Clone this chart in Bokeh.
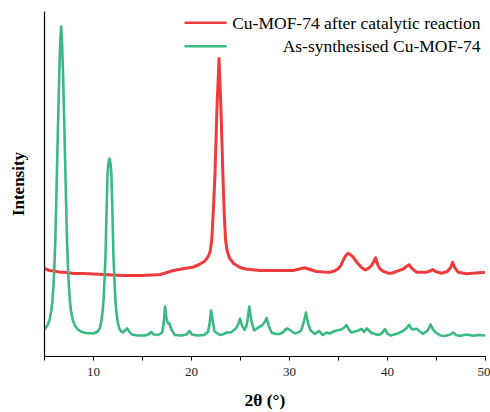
from bokeh.plotting import figure
from bokeh.models import Range1d, FixedTicker, Label
from bokeh.embed import file_html
from bokeh.resources import INLINE

# ---------------- data ----------------
two_theta_after = [5.0, 5.5, 6.0, 6.5, 7.28, 8.0, 9.0, 10.0, 11.0, 12.0, 13.0, 14.07, 15.0, 16.0,
                   16.8, 17.5, 18.15, 19.0, 20.2, 20.8, 21.3, 21.56, 21.75, 21.9, 22.06, 22.2,
                   22.4, 22.6, 22.81, 23.0, 23.2, 23.35, 23.48, 23.65, 23.9, 24.3, 24.95, 25.5,
                   27.0, 28.5, 30.36, 31.0, 31.55, 32.1, 32.74, 33.5, 34.1, 34.6, 34.95, 35.25,
                   35.46, 35.75, 35.97, 36.2, 36.5, 36.75, 37.0, 37.35, 37.7, 38.05, 38.37, 38.6,
                   38.78, 39.0, 39.22, 39.6, 40.07, 40.5, 41.08, 41.6, 42.0, 42.2, 42.5, 42.96,
                   43.98, 44.35, 44.6, 44.9, 45.52, 46.1, 46.45, 46.64, 46.85, 47.2, 48.06, 49.0,
                   49.94]
intensity_after = [88, 86, 85.5, 84.5, 84, 83, 83, 82.5, 82, 81.5, 81, 81, 81, 81.5,
                   82, 84, 86, 87.5, 89.5, 92, 95, 98, 101, 105, 116, 140,
                   183, 249, 298, 249, 183, 140, 116, 105, 98, 93, 89, 87.5,
                   86, 86, 86, 87.5, 88.7, 87, 85, 84.5, 84.3, 85.5, 87.7, 91,
                   96, 101, 103.3, 102, 99.3, 96, 92.7, 89, 86.7, 88, 91, 95,
                   98.7, 92, 87.7, 85, 83.3, 83.5, 85.7, 87.5, 90.5, 91.7, 88, 84.3,
                   84.3, 85.5, 87, 85, 83.3, 85, 89, 94.3, 89, 84.3, 82.7, 83.5,
                   84.3]

two_theta_synth = [5.0, 5.3, 5.5, 5.7, 5.8, 5.9, 6.0, 6.1, 6.2, 6.3, 6.4, 6.5, 6.6, 6.7,
                   6.8, 6.9, 7.0, 7.1, 7.2, 7.3, 7.4, 7.5, 7.6, 7.7, 7.9, 8.1, 8.4, 8.7,
                   9.2, 10.0, 10.13, 10.43, 10.63, 10.78, 10.93, 11.03, 11.13, 11.23, 11.33,
                   11.43, 11.53, 11.63, 11.73, 11.83, 11.93, 12.03, 12.13, 12.23, 12.33, 12.48,
                   12.63, 12.83, 13.0, 13.2, 13.43, 13.65, 13.9, 14.5, 15.2, 15.6, 15.88, 16.15,
                   16.6, 17.0, 17.15, 17.3, 17.45, 17.6, 17.75, 17.95, 18.3, 19.0, 19.5, 19.78,
                   20.05, 20.6, 21.3, 21.7, 21.85, 22.0, 22.15, 22.35, 22.9, 23.3, 23.6, 24.0,
                   24.4, 24.6, 24.8, 24.95, 25.15, 25.4, 25.65, 25.9, 26.1, 26.38, 26.82, 27.2,
                   27.5, 27.67, 27.9, 28.18, 28.6, 28.95, 29.3, 29.6, 29.8, 30.1, 30.55, 30.9,
                   31.17, 31.45, 31.68, 31.9, 32.15, 32.6, 33.0, 33.4, 33.8, 34.1, 34.5, 34.8,
                   35.3, 35.6, 35.8, 36.05, 36.33, 37.0, 37.35, 37.6, 37.9, 38.37, 39.05, 39.4,
                   39.73, 40.0, 40.3, 41.08, 41.67, 42.0, 42.2, 42.5, 42.96, 43.6, 44.1, 44.4,
                   44.65, 44.93, 45.4, 45.85, 46.4, 46.7, 47.0, 47.4, 48.07, 48.75, 49.3, 50.0]
intensity_synth = [27, 31, 36, 46, 55, 68, 88, 115, 155, 198, 240, 280, 312, 330,
                   312, 280, 240, 198, 155, 115, 88, 68, 55, 46, 36, 31, 27, 25,
                   23.5, 23, 23.5, 25, 28, 34, 45, 57, 78, 102, 145,
                   182, 194, 198, 194, 182, 145, 102, 78, 57, 45, 34,
                   28, 25, 24, 26, 28, 25, 22, 21, 21, 22, 24.5, 22,
                   21.5, 24, 32, 50, 38, 33, 33, 27, 21.5, 21, 22, 25.5,
                   22, 21, 21.5, 25, 33, 46, 36, 25, 21.5, 22.5, 24, 24,
                   27, 29, 33, 38, 31, 26.5, 32, 50, 36, 26, 29, 31,
                   35, 38.5, 30, 24, 22.5, 22.5, 24, 27, 28, 26, 23, 24,
                   26, 34, 44, 33, 26, 22.5, 25.5, 21.5, 24, 23, 25, 26,
                   27, 29, 31.5, 27, 24, 26, 27.7, 24.5, 28, 23.5, 21.5, 23,
                   27.5, 23, 21, 23, 26, 29, 31.7, 27, 27.7, 22.7, 26, 32,
                   27, 24, 21, 20.5, 22, 24, 21.5, 20.5, 22, 20.7, 21.5, 21]

series_labels = ["Cu-MOF-74 after catalytic reaction", "As-synthesised Cu-MOF-74"]
x_tick_values = [10, 20, 30, 40, 50]
x_minor_tick_values = [5, 15, 25, 35, 45]

# ---------------- layout / style ----------------
X0, X1 = 5, 50
Y0, Y1 = 0, 345
RED = "#EF3B3D"
GREEN = "#3BB983"
SERIF = "Liberation Serif"

# page-pixel -> data helpers (frame spans page px 44..485 and 11..356)
FL, FR, FT, FB = 44.0, 485.0, 11.0, 356.0
def px_x(px):
    return X0 + (px - FL) * (X1 - X0) / (FR - FL)
def px_y(py):
    return Y0 + (FB - py) * (Y1 - Y0) / (FB - FT)

p = figure(width=490, height=412, output_backend="svg", toolbar_location=None,
           x_range=Range1d(X0, X1), y_range=Range1d(Y0, Y1),
           min_border_left=44, min_border_right=5, min_border_top=11, min_border_bottom=56)
p.outline_line_color = None
p.xgrid.visible = False
p.ygrid.visible = False
p.background_fill_color = "white"
p.border_fill_color = "white"

p.line(two_theta_after, intensity_after, line_color=RED, line_width=3.0, line_join="round")
p.line(two_theta_synth, intensity_synth, line_color=GREEN, line_width=2.6, line_join="round")

# x axis
xa = p.xaxis[0]
xa.ticker = FixedTicker(ticks=x_tick_values, minor_ticks=x_minor_tick_values)
xa.axis_line_color = "black"
xa.axis_line_width = 1.2
xa.major_tick_in = 0
xa.major_tick_out = 4
xa.minor_tick_in = 0
xa.minor_tick_out = 4
xa.major_tick_line_color = "black"
xa.minor_tick_line_color = "black"
xa.major_label_text_font = SERIF
xa.major_label_text_font_size = "13px"
xa.major_label_text_color = "#222222"
xa.major_label_standoff = 7
xa.axis_label = "2θ (°)"
xa.axis_label_text_font = SERIF
xa.axis_label_text_font_style = "bold"
xa.axis_label_text_font_size = "17.5px"
xa.axis_label_text_color = "black"
xa.axis_label_standoff = 11

# y axis: line and title only
ya = p.yaxis[0]
ya.ticker = FixedTicker(ticks=[])
ya.axis_line_color = "black"
ya.axis_line_width = 1.2
ya.major_tick_in = 0
ya.major_tick_out = 0
ya.minor_tick_in = 0
ya.minor_tick_out = 0
ya.major_label_standoff = 0
ya.axis_label = "Intensity"
ya.axis_label_text_font = SERIF
ya.axis_label_text_font_style = "bold"
ya.axis_label_text_font_size = "17px"
ya.axis_label_text_color = "black"
ya.axis_label_standoff = 17

# legend (keys + right-aligned texts)
for color, label, ky in [(RED, series_labels[0], 22.3), (GREEN, series_labels[1], 45.7)]:
    p.line([px_x(184), px_x(226)], [px_y(ky), px_y(ky)], line_color=color, line_width=2.6)
    p.add_layout(Label(x=px_x(480), y=px_y(ky), text=label, text_align="right",
                       text_baseline="middle", text_font=SERIF, text_font_size="17.5px",
                       text_color="black"))

open("out.html", "w").write(file_html(p, INLINE))
